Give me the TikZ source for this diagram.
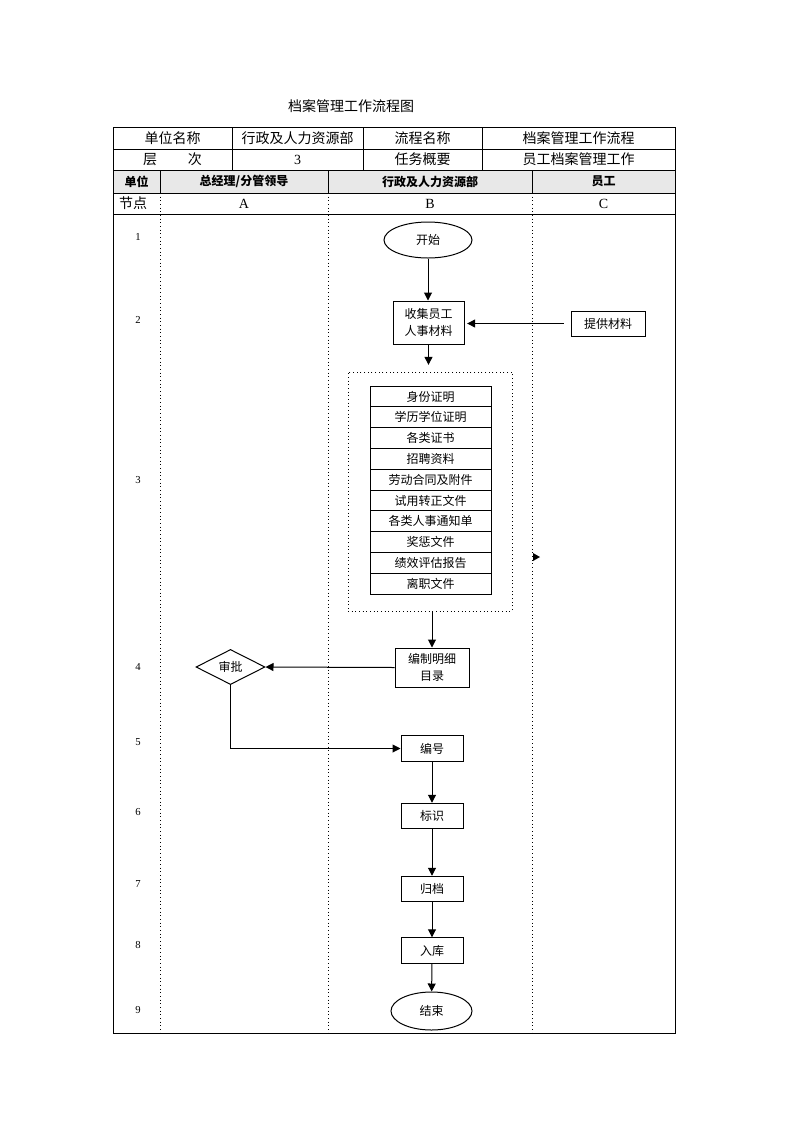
\documentclass[tikz,border=0pt]{standalone}
\usepackage{fontspec}
\setmainfont{Liberation Serif}
\newfontfamily\cjk{Noto Sans CJK SC}
\usetikzlibrary{shapes.geometric,arrows.meta}
\begin{document}
\begin{tikzpicture}[x=0.75pt,y=-0.75pt,
  every node/.style={font=\cjk\fontsize{9}{12.5}\selectfont,inner sep=0pt,align=center},
  line/.style={line width=0.75pt},
  arr/.style={line width=0.75pt,-{Triangle[length=6pt,width=6pt]}},
  boxn/.style={draw,line width=0.75pt,rectangle},
  item/.style={boxn,minimum width=90.75pt,minimum height=15.6pt},
  small/.style={boxn,minimum width=46.5pt,minimum height=19.1pt},
  oval/.style={draw,line width=0.75pt,ellipse},
  tab/.style={font=\cjk\fontsize{10.5}{12}\selectfont},
  tabl/.style={font=\fontsize{10.5}{12}\selectfont},
  hdr/.style={font=\cjk\bfseries\fontsize{9}{11}\selectfont},
  num/.style={font=\fontsize{8}{10}\selectfont},
  dot/.style={line width=0.75pt,dotted}
]
\useasboundingbox (0,0) rectangle (793,1122);
% title
\node[tab] (title) at (351,106) {档案管理工作流程图};
% table header fill
\fill[gray!18] (113,170) rectangle (675,193);
% horizontal lines
\draw[line] (113,127) rectangle (675,1033);
\draw[line] (113,149) -- (675,149);
\draw[line] (113,170) -- (675,170);
\draw[line] (113,193) -- (675,193);
\draw[line] (113,214) -- (675,214);
% verticals rows 1-2
\foreach \x in {232,363,482} \draw[line] (\x,127) -- (\x,170);
% verticals row 3
\foreach \x in {160,328,532} \draw[line] (\x,170) -- (\x,193);
% dotted verticals
\foreach \x in {160,328,532} \draw[dot] (\x,193) -- (\x,1033);
% header texts
\node[tab] (h11) at (172.5,138) {单位名称};
\node[tab] (h12) at (297.5,138) {行政及人力资源部};
\node[tab] (h13) at (422.5,138) {流程名称};
\node[tab] (h14) at (578.5,138) {档案管理工作流程};
\node[tab] (h21) at (172.5,159.5) {层\hspace{2.2em}次};
\node[tabl] (h22) at (297.5,159.5) {3};
\node[tab] (h23) at (422.5,159.5) {任务概要};
\node[tab] (h24) at (578.5,159.5) {员工档案管理工作};
\node[hdr] (h31) at (136.5,181.5) {单位};
\node[hdr] (h32) at (244,181.5) {总经理/分管领导};
\node[hdr] (h33) at (430,181.5) {行政及人力资源部};
\node[hdr] (h34) at (603.5,181.5) {员工};
\node[tab] (h41) at (133,203.5) {节点};
\node[tabl] (h42) at (244,203.5) {A};
\node[tabl] (h43) at (430,203.5) {B};
\node[tabl] (h44) at (603.5,203.5) {C};
% row numbers
\node[num] (n1) at (138,237) {1};
\node[num] (n2) at (138,320) {2};
\node[num] (n3) at (138,480) {3};
\node[num] (n4) at (138,667) {4};
\node[num] (n5) at (138,742) {5};
\node[num] (n6) at (138,812) {6};
\node[num] (n7) at (138,884) {7};
\node[num] (n8) at (138,945) {8};
\node[num] (n9) at (138,1010) {9};
% nodes
\node[oval,minimum width=66pt,minimum height=27pt] (start) at (428,240) {开始};
\node[boxn,minimum width=53.25pt,minimum height=32.25pt] (collect) at (428.5,322.5) {收集员工\\人事材料};
\node[boxn,minimum width=55.5pt,minimum height=18.75pt] (provide) at (608,323.5) {提供材料};
\node[draw,dot,minimum width=123pt,minimum height=179.25pt] (group) at (430,491.5) {};
\node[item] (i1) at (430.5,396.5) {身份证明};
\node[item] (i2) at (430.5,417.3) {学历学位证明};
\node[item] (i3) at (430.5,438.1) {各类证书};
\node[item] (i4) at (430.5,458.9) {招聘资料};
\node[item] (i5) at (430.5,479.7) {劳动合同及附件};
\node[item] (i6) at (430.5,500.5) {试用转正文件};
\node[item] (i7) at (430.5,521.3) {各类人事通知单};
\node[item] (i8) at (430.5,542.1) {奖惩文件};
\node[item] (i9) at (430.5,562.9) {绩效评估报告};
\node[item] (i10) at (430.5,583.7) {离职文件};
\node[boxn,minimum width=55.5pt,minimum height=29.25pt] (compile) at (432,667.5) {编制明细\\目录};
\node[draw,line width=0.75pt,diamond,minimum width=51.75pt,minimum height=25.5pt] (approve) at (230.5,667) {审批};
\node[small] (number) at (432,748.5) {编号};
\node[small] (mark) at (432,816) {标识};
\node[small] (archive) at (432,889) {归档};
\node[small] (store) at (432,950.5) {入库};
\node[oval,minimum width=60.75pt,minimum height=28.5pt] (end) at (431.5,1011) {结束};
% connectors
\draw[arr] (start.south) -- (start.south |- collect.north);
\draw[arr,shorten <=5pt,shorten >=2pt] (provide.west) -- (collect.east |- provide.west);
\draw[arr,shorten >=5pt] (collect.south) -- (collect.south |- group.north);
\draw[arr] (group.south -| compile.north) -- (compile.north);
\draw[arr] (compile.west) -- (approve.east);
\draw[arr] (approve.south) |- (number.west);
\draw[arr] (number) -- (mark);
\draw[arr] (mark) -- (archive);
\draw[arr] (archive) -- (store);
\draw[arr] (store) -- (end);
% stray arrowhead
\coordinate (s1) at (533,553);
\coordinate (s2) at (540,557);
\coordinate (s3) at (533,561);
\fill (s1) -- (s2) -- (s3) -- cycle;
\end{tikzpicture}
\end{document}
